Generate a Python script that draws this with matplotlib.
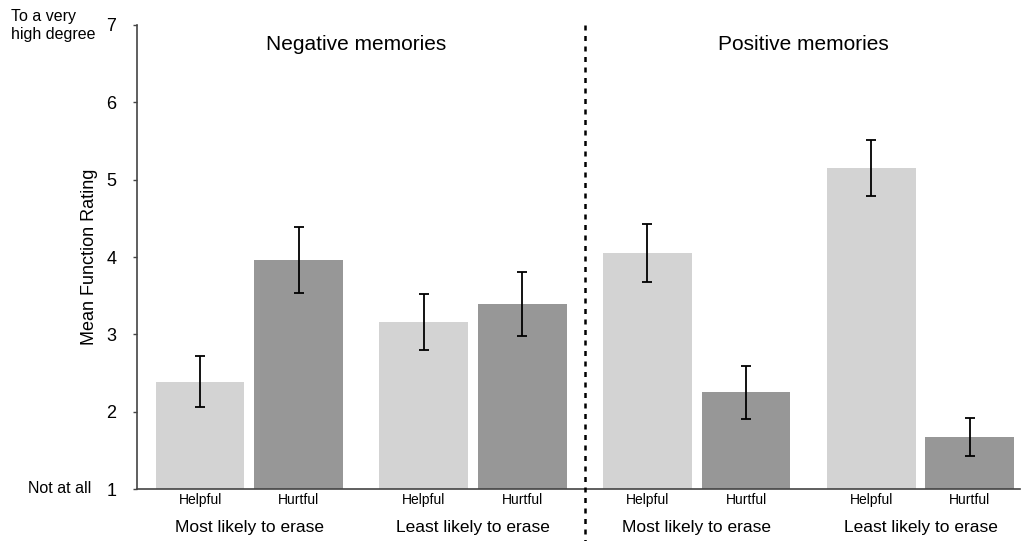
import matplotlib
matplotlib.use("Agg")
import matplotlib.pyplot as plt
import numpy as np

plt.rcParams['font.family'] = ['Liberation Sans', 'DejaVu Sans']

# Mean function ratings (1 = not at all, 7 = to a very high degree)
panels = ["Negative memories", "Positive memories"]
groups = ["Most likely to erase", "Least likely to erase",
          "Most likely to erase", "Least likely to erase"]
functions = ["Helpful", "Hurtful"]
means = [2.39, 3.96, 3.16, 3.39, 4.05, 2.25, 5.15, 1.67]
errors = [0.33, 0.43, 0.36, 0.41, 0.375, 0.34, 0.36, 0.245]
yticks = [1, 2, 3, 4, 5, 6, 7]

light = "#d3d3d3"
dark = "#979797"

fig = plt.figure(figsize=(10.21, 5.41), dpi=100)
ax = fig.add_axes([0.1342, 0.0961, 0.8648, 0.8577])

group_step = 2.27
positions = []
colors = []
labels = []
for g in range(len(groups)):
    for w, f in enumerate(functions):
        positions.append(g * group_step + w)
        colors.append(light if w == 0 else dark)
        labels.append(f)
positions = np.array(positions)

ax.bar(positions, np.array(means) - 1, bottom=1, width=0.9, color=colors,
       edgecolor='none', zorder=2)
ax.errorbar(positions, means, yerr=errors, fmt='none', ecolor='black',
            elinewidth=1.3, capsize=3.5, capthick=1.3, zorder=3)

ax.set_xlim(-0.64, 8.32)
ax.set_ylim(1, 7)
ax.set_yticks(yticks)
ax.set_yticklabels([str(t) for t in yticks], fontsize=13)
ax.tick_params(axis='y', length=3, width=1, color='#444444', pad=12)
ax.set_xticks(positions)
ax.set_xticklabels(labels, fontsize=10)
ax.tick_params(axis='x', length=0, pad=3)

for side in ['top', 'right']:
    ax.spines[side].set_visible(False)
for side in ['left', 'bottom']:
    ax.spines[side].set_color('#444444')
    ax.spines[side].set_linewidth(1.2)

ax.set_ylabel("Mean Function Rating", fontsize=13, labelpad=6)

# group captions under each pair of bars
for g, name in enumerate(groups):
    cx = g * group_step + 0.5
    ax.text(cx, -0.066, name, transform=ax.get_xaxis_transform(),
            ha='center', va='top', fontsize=12.5)

# panel titles
for p, name in enumerate(panels):
    cx = (2 * p) * group_step + (group_step + 1) / 2 - 0.05
    ax.text(cx, 6.75, name, ha='center', va='center', fontsize=15)

# divider between negative and positive memories
divider = (positions[3] + positions[4]) / 2
ax.plot([divider, divider], [7, 0.33], transform=ax.transData,
        color='black', linestyle=(0, (2, 2.2)), linewidth=1.8,
        clip_on=False, zorder=4)

# scale anchors
fig.text(0.011, 0.952, "To a very\nhigh degree", ha='left', va='center',
         fontsize=11.5, linespacing=1.25)
fig.text(0.027, 0.0975, "Not at all", ha='left', va='center', fontsize=11.5)

fig.savefig("out.png", dpi=100)
